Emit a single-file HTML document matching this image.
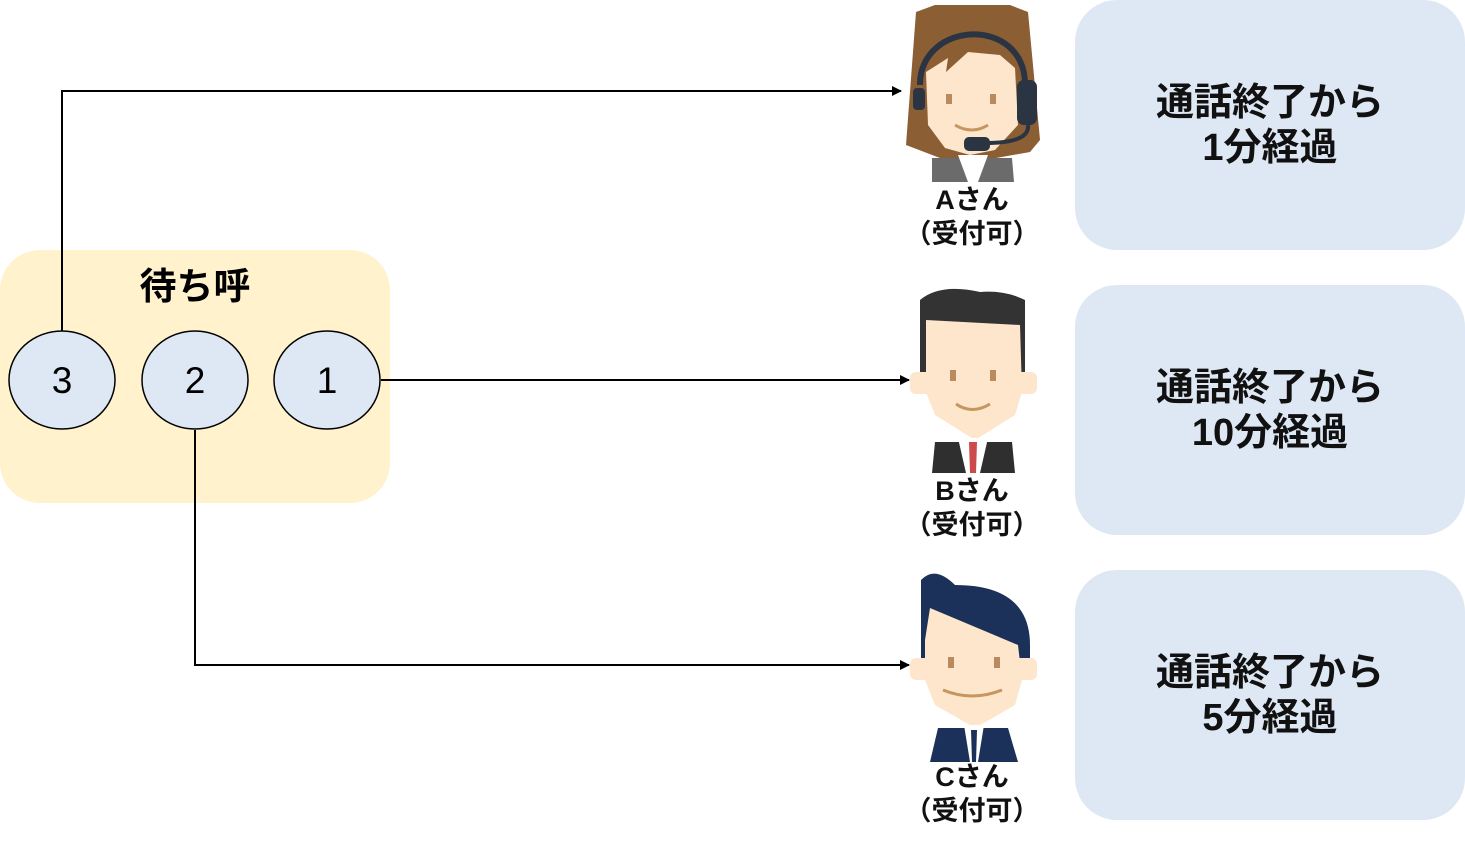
<!DOCTYPE html>
<html><head><meta charset="utf-8"><style>
html,body{margin:0;padding:0;background:#fff;}
svg{display:block}
text{font-family:"Liberation Sans","Noto Sans CJK JP",sans-serif;}
</style></head><body>
<svg width="1465" height="849" viewBox="0 0 1465 849" xmlns="http://www.w3.org/2000/svg">
<defs><marker id="ar" markerWidth="10" markerHeight="10" refX="9" refY="5" orient="auto" markerUnits="userSpaceOnUse"><path d="M0,0 L10,5 L0,10 z" fill="#000"/></marker></defs>
<rect x="0" y="250" width="390" height="253" rx="40" fill="#fff2cc"/>
<text x="195" y="299" font-size="37" font-weight="bold" text-anchor="middle">待ち呼</text>
<g fill="#dee8f4" stroke="#000" stroke-width="1.5">
<ellipse cx="62" cy="380" rx="53" ry="49"/><ellipse cx="195" cy="380" rx="53" ry="49"/><ellipse cx="327" cy="380" rx="53" ry="49"/></g>
<g font-size="37" text-anchor="middle"><text x="62" y="393">3</text><text x="195" y="393">2</text><text x="327" y="393">1</text></g>
<g fill="none" stroke="#000" stroke-width="2" marker-end="url(#ar)">
<path d="M62,331 V91 H901"/><path d="M381,380 H909"/><path d="M195,430 V665 H909"/></g>
<g fill="#dee8f4"><rect x="1075" y="0" width="390" height="250" rx="42"/><rect x="1075" y="285" width="390" height="250" rx="42"/><rect x="1075" y="570" width="390" height="250" rx="42"/></g>
<g font-size="38" font-weight="bold" text-anchor="middle" fill="#111">
<text x="1270" y="115">通話終了から</text><text x="1270" y="160">1分経過</text>
<text x="1270" y="400">通話終了から</text><text x="1270" y="445">10分経過</text>
<text x="1270" y="685">通話終了から</text><text x="1270" y="730">5分経過</text></g>
<!-- Avatar A -->
<path d="M916,12 L935,5 L1010,5 L1028,12 L1040,140 L1030,152 L985,160 L940,158 L906,145 Z" fill="#8b5e34"/>
<path d="M926,72 L948,58 L946,72 L968,52 L1000,55 L1015,68 L1018,125 L995,150 L970,155 L945,148 L928,125 Z" fill="#fde6cc"/>
<path d="M932,158 L1012,158 L1014,182 L932,182 Z" fill="#6b6b6b"/>
<path d="M958,155 L988,155 L978,182 L968,182 Z" fill="#fff"/>
<path d="M920,85 C920,20 1025,15 1025,85" fill="none" stroke="#2b3442" stroke-width="6"/>
<rect x="913" y="88" width="12" height="22" rx="4" fill="#2b3442"/>
<rect x="1017" y="80" width="20" height="45" rx="7" fill="#2b3442"/>
<path d="M1028,125 Q1030,143 985,143" fill="none" stroke="#2b3442" stroke-width="4"/>
<rect x="964" y="137" width="26" height="14" rx="5" fill="#2b3442"/>
<rect x="946" y="94" width="6" height="10" fill="#b88a5e"/><rect x="990" y="94" width="6" height="10" fill="#b88a5e"/>
<path d="M955,125 Q972,135 988,125" fill="none" stroke="#c7955e" stroke-width="3"/>
<!-- Avatar B -->
<path d="M920,300 Q940,283 980,292 Q1005,290 1025,300 L1025,372 L920,372 Z" fill="#333"/>
<path d="M926,320 L1020,325 L1022,392 L1015,415 L975,440 L935,415 L926,392 Z" fill="#fde6cc"/>
<rect x="910" y="372" width="127" height="22" rx="6" fill="#fde6cc"/>
<path d="M935,442 L1012,442 L1015,473 L932,473 Z" fill="#2f2f2f"/>
<path d="M958,438 L988,438 L980,473 L966,473 Z" fill="#fff"/>
<path d="M969,442 L977,442 L976,473 L970,473 Z" fill="#cc4a4a"/>
<rect x="950" y="370" width="6" height="11" fill="#b88a5e"/><rect x="990" y="370" width="6" height="11" fill="#b88a5e"/>
<path d="M956,404 Q972,415 990,404" fill="none" stroke="#c7955e" stroke-width="3"/>
<!-- Avatar C -->
<path d="M921,580 Q935,565 955,585 Q1030,585 1030,645 L1030,660 L921,660 Z" fill="#1b3159"/>
<path d="M930,608 L1018,645 L1022,680 L1015,705 L975,728 L935,705 L925,680 L925,640 Z" fill="#fde6cc"/>
<rect x="910" y="658" width="127" height="22" rx="6" fill="#fde6cc"/>
<path d="M938,728 L1008,728 L1018,762 L930,762 Z" fill="#1b3159"/>
<path d="M964,725 L984,725 L978,762 L970,762 Z" fill="#fff"/>
<path d="M971,730 L977,730 L976,762 L972,762 Z" fill="#1b3159"/>
<rect x="948" y="657" width="6" height="11" fill="#b88a5e"/><rect x="994" y="657" width="6" height="11" fill="#b88a5e"/>
<path d="M943,690 Q972,702 1002,690" fill="none" stroke="#c7955e" stroke-width="3"/>
<g font-size="27" font-weight="bold" text-anchor="middle" fill="#111">
<text x="972" y="209">Aさん</text><text x="972" y="243">（受付可）</text>
<text x="972" y="500">Bさん</text><text x="972" y="534">（受付可）</text>
<text x="972" y="786">Cさん</text><text x="972" y="820">（受付可）</text></g>
</svg>
</body></html>
